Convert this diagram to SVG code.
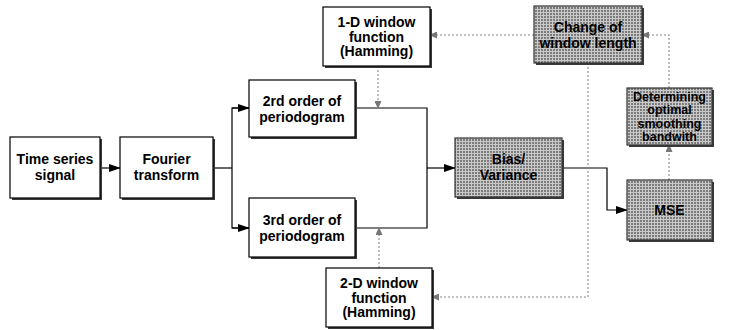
<svg xmlns="http://www.w3.org/2000/svg" width="730" height="330" viewBox="0 0 730 330">
<style>
.box{fill:#fff;stroke:#000;stroke-width:1.2}
.gbox{fill:url(#tex);stroke:#333;stroke-width:1.2}
.sh{fill:#3a3a3a}
.t{font-family:"Liberation Sans",Arial,sans-serif;font-weight:bold;font-size:14px;text-anchor:middle;fill:#000}
.s{font-size:12.5px}
.ln{fill:none;stroke:#000;stroke-width:1.2}
.dl{fill:none;stroke:#888;stroke-width:1.1;stroke-dasharray:2,2}
</style>
<defs>
<pattern id="tex" width="3" height="3" patternUnits="userSpaceOnUse">
<rect width="3" height="3" fill="#7c7c7c"/>
<rect width="3" height="1" fill="#c9c9c9"/>
<rect width="1" height="3" fill="#c9c9c9"/>
</pattern>
<marker id="ah" markerWidth="12" markerHeight="8" refX="11" refY="4" orient="auto" markerUnits="userSpaceOnUse">
<path d="M0,0 L12,4 L0,8 Z" fill="#000"/>
</marker>
<marker id="dh" markerWidth="8" markerHeight="7" refX="7" refY="3.5" orient="auto" markerUnits="userSpaceOnUse">
<path d="M0,0 L8,3.5 L0,7 Z" fill="#777"/>
</marker>
</defs>
<rect width="730" height="330" fill="#fff"/>

<g id="connectors">
<line class="ln" x1="100" y1="168" x2="120" y2="168" marker-end="url(#ah)"/>
<polyline class="ln" points="213,168 232,168"/>
<polyline class="ln" points="249,108 232,108 232,228 249,228"/>
<line class="ln" x1="232" y1="108" x2="249" y2="108" marker-end="url(#ah)"/>
<line class="ln" x1="232" y1="228" x2="249" y2="228" marker-end="url(#ah)"/>
<polyline class="ln" points="355,108 427,108 427,228 355,228"/>
<line class="ln" x1="427" y1="168" x2="455" y2="168" marker-end="url(#ah)"/>
<polyline class="ln" points="562,168 607,168 607,210 627,210" marker-end="url(#ah)"/>
<polyline class="dl" points="378,66 378,108" marker-end="url(#dh)"/>
<polyline class="dl" points="379,268 379,228" marker-end="url(#dh)"/>
<polyline class="dl" points="534,35 430,35" marker-end="url(#dh)"/>
<polyline class="dl" points="588,63 588,297 432,297" marker-end="url(#dh)"/>
<polyline class="dl" points="669,88 669,35 642,35" marker-end="url(#dh)"/>
<polyline class="dl" points="669,180 669,145" marker-end="url(#dh)"/>
</g>

<g id="time-series">
<rect class="sh" x="12" y="139" width="90" height="61"/>
<rect class="box" x="10" y="137" width="90" height="61"/>
<text class="t" x="55" y="164">Time series</text>
<text class="t" x="55" y="180">signal</text>
</g>
<g id="fourier">
<rect class="sh" x="122" y="139" width="93" height="61"/>
<rect class="box" x="120" y="137" width="93" height="61"/>
<text class="t" x="166.5" y="164">Fourier</text>
<text class="t" x="166.5" y="180">transform</text>
</g>
<g id="order2">
<rect class="sh" x="251" y="82" width="106" height="57"/>
<rect class="box" x="249" y="80" width="106" height="57"/>
<text class="t" x="302" y="106">2rd order of</text>
<text class="t" x="302" y="122">periodogram</text>
</g>
<g id="order3">
<rect class="sh" x="251" y="200" width="106" height="59"/>
<rect class="box" x="249" y="198" width="106" height="59"/>
<text class="t" x="302" y="225">3rd order of</text>
<text class="t" x="302" y="241">periodogram</text>
</g>
<g id="window1d">
<rect class="sh" x="325" y="9" width="107" height="59"/>
<rect class="box" x="323" y="7" width="107" height="59"/>
<text class="t" x="376.5" y="27">1-D window</text>
<text class="t" x="376.5" y="41.5">function</text>
<text class="t" x="376.5" y="56">(Hamming)</text>
</g>
<g id="window2d">
<rect class="sh" x="328" y="270" width="106" height="59"/>
<rect class="box" x="326" y="268" width="106" height="59"/>
<text class="t" x="379" y="288">2-D window</text>
<text class="t" x="379" y="302.5">function</text>
<text class="t" x="379" y="317">(Hamming)</text>
</g>
<g id="bias">
<rect class="sh" x="457" y="140" width="107" height="59"/>
<rect class="gbox" x="455" y="138" width="107" height="59"/>
<text class="t" x="508.5" y="164">Bias/</text>
<text class="t" x="508.5" y="180">Variance</text>
</g>
<g id="change">
<rect class="sh" x="536" y="8" width="108" height="57"/>
<rect class="gbox" x="534" y="6" width="108" height="57"/>
<text class="t" x="588" y="32">Change of</text>
<text class="t" x="588" y="48">window length</text>
</g>
<g id="determining">
<rect class="sh" x="629" y="90" width="85" height="57"/>
<rect class="gbox" x="627" y="88" width="85" height="57"/>
<text class="t s" x="669.5" y="100.5">Determining</text>
<text class="t s" x="669.5" y="114">optimal</text>
<text class="t s" x="669.5" y="127.5">smoothing</text>
<text class="t s" x="669.5" y="141">bandwith</text>
</g>
<g id="mse">
<rect class="sh" x="629" y="182" width="85" height="60"/>
<rect class="gbox" x="627" y="180" width="85" height="60"/>
<text class="t" x="669.5" y="215">MSE</text>
</g>
</svg>
